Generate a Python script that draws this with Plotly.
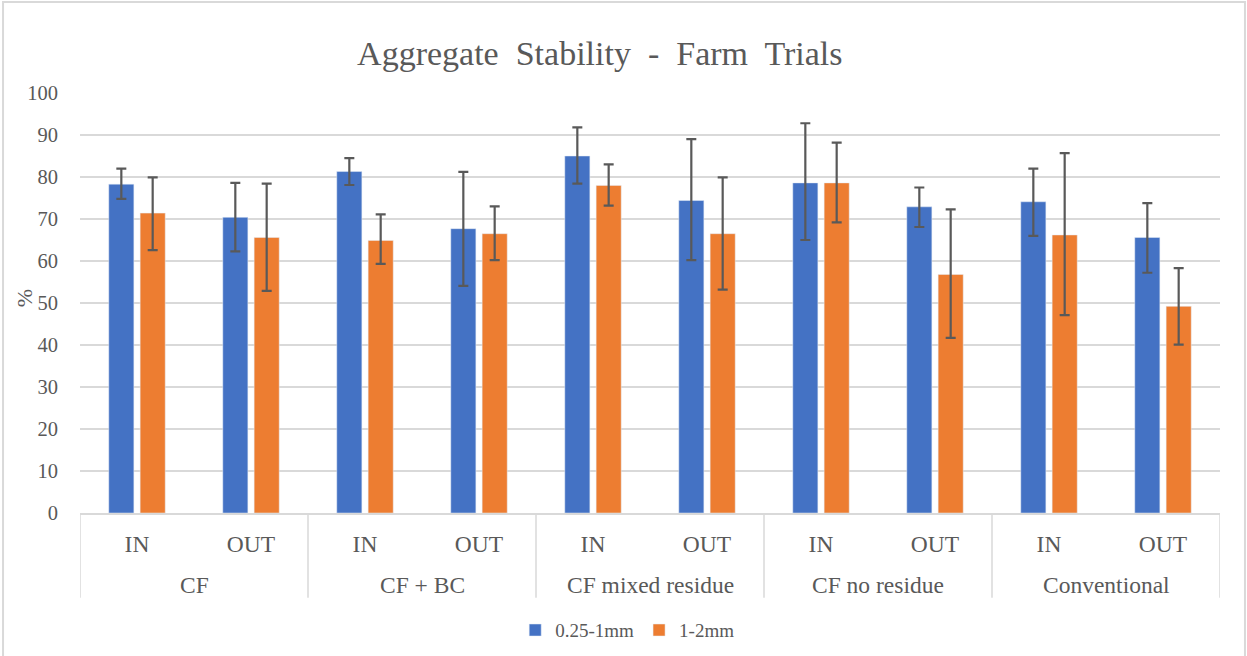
import plotly.graph_objects as go

# categories
groups = ['CF', 'CF + BC', 'CF mixed residue', 'CF no residue', 'Conventional']
plots = ['IN', 'OUT'] * 5

# 0.25-1mm aggregates
small = [78.3, 70.4, 81.3, 67.7, 85.0, 74.4, 78.6, 72.9, 74.1, 65.6]
small_hi = [82.0, 78.6, 84.5, 81.2, 91.8, 89.0, 92.8, 77.5, 82.0, 73.8]
small_lo = [74.8, 62.3, 78.1, 54.1, 78.4, 60.2, 65.0, 68.1, 66.0, 57.2]

# 1-2mm aggregates
large = [71.4, 65.6, 64.9, 66.5, 78.0, 66.5, 78.6, 56.8, 66.2, 49.2]
large_hi = [79.9, 78.4, 71.1, 73.0, 83.0, 79.9, 88.2, 72.3, 85.7, 58.3]
large_lo = [62.6, 52.9, 59.3, 60.2, 73.2, 53.2, 69.2, 41.7, 47.1, 40.1]

FONT = 'Liberation Serif'
GREY = '#595959'
LINE = '#D9D9D9'

xs = list(range(len(plots)))


def err(v, hi, lo):
    return dict(type='data', symmetric=False,
                array=[h - x for h, x in zip(hi, v)],
                arrayminus=[x - l for x, l in zip(v, lo)],
                color=GREY, thickness=2.2, width=5)


fig = go.Figure()
fig.add_bar(x=xs, y=small, name='0.25-1mm', marker_color='#4472C4',
            error_y=err(small, small_hi, small_lo))
fig.add_bar(x=xs, y=large, name='1-2mm', marker_color='#ED7D31',
            error_y=err(large, large_hi, large_lo))

fig.update_layout(
    width=1247, height=656,
    margin=dict(l=80, r=27, t=93, b=143, autoexpand=False),
    paper_bgcolor='white', plot_bgcolor='white',
    font=dict(family=FONT, color=GREY, size=20),
    title=dict(text='Aggregate  Stability  -  Farm  Trials', x=0.481, xanchor='center',
               y=0.919, yanchor='middle', font=dict(size=34, color=GREY, family=FONT)),
    barmode='group', bargap=0.45, bargroupgap=0.2,
    showlegend=True,
    legend=dict(orientation='h', x=0.48, xanchor='center', y=-0.279, yanchor='middle',
                font=dict(size=19), itemwidth=30),
)
fig.update_yaxes(range=[0, 100], dtick=10, showgrid=True, gridcolor=LINE, gridwidth=1.5,
                 zeroline=False, showline=False, tickfont=dict(size=20.5), ticklabelstandoff=21,
                 automargin=False)
fig.update_xaxes(range=[-0.5, len(plots) - 0.5], tickvals=xs, ticktext=plots,
                 showline=True, linecolor=LINE, linewidth=1.5, showgrid=False, zeroline=False,
                 tickfont=dict(size=23.5), ticks='', ticklabelstandoff=9, automargin=False)

# y axis title
fig.add_annotation(x=-0.048, y=0.512, xref='paper', yref='paper', text='%', textangle=-90,
                   xanchor='center', showarrow=False, font=dict(size=22, color=GREY))

# group labels and dividers under the axis
for i, g in enumerate(groups):
    fig.add_annotation(x=2 * i + 0.5, y=-0.171, xref='x', yref='paper', text=g,
                       showarrow=False, yanchor='middle', font=dict(size=23.5, color=GREY))
for i in range(len(groups) + 1):
    fig.add_shape(type='line', x0=2 * i - 0.5, x1=2 * i - 0.5, y0=0, y1=-0.202,
                  xref='x', yref='paper', line=dict(color=LINE, width=1.5))

# outer chart border
fig.add_shape(type='rect', xref='paper', yref='paper', x0=-0.0675, x1=1.0219, y0=-0.36, y1=1.2167,
              line=dict(color=LINE, width=2))

# drop the default page margin so the chart sits at the window's corner
fig.write_html('out.html', config={'displayModeBar': False},
               post_script="document.body.style.margin='0';")
